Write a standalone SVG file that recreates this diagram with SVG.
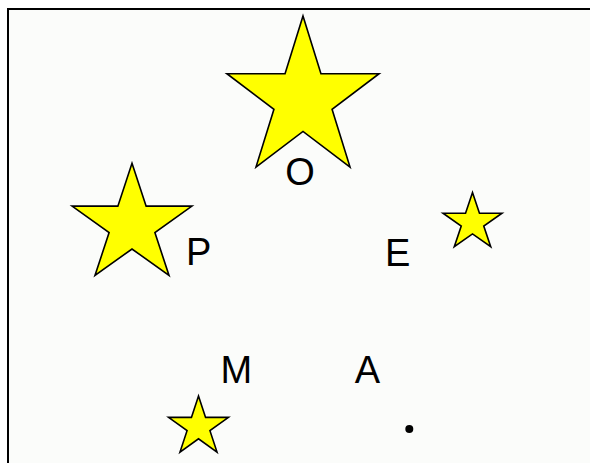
<svg xmlns="http://www.w3.org/2000/svg" width="590" height="463" viewBox="0 0 590 463">
  <style>
    .star { fill: #ffff00; stroke: #000000; stroke-width: 1.6; stroke-linejoin: miter; }
    .lbl { font-family: "Liberation Sans", Arial, sans-serif; font-size: 38px; fill: #000000; }
  </style>
  <rect x="0" y="0" width="590" height="463" fill="#ffffff"/>
  <rect id="frame" x="8" y="9" width="600" height="480" fill="#fbfcfa" stroke="#000000" stroke-width="2"/>
  <g id="star-O">
    <polygon class="star" points="303,16 320.96,73.70 379.09,73.70 332.06,109.35 350.02,167.05 303,131.40 255.98,167.05 273.94,109.35 226.91,73.70 285.04,73.70"/>
    <text class="lbl" x="300" y="185" text-anchor="middle">O</text>
  </g>
  <g id="star-P">
    <polygon class="star" points="132,163.3 146.14,206.14 191.92,206.14 154.89,232.62 169.03,275.46 132,248.98 94.97,275.46 109.11,232.62 72.08,206.14 117.86,206.14"/>
    <text class="lbl" x="186" y="265">P</text>
  </g>
  <g id="star-E">
    <polygon class="star" points="472.5,192.5 479.46,213.23 501.98,213.23 483.76,226.04 490.72,246.77 472.5,233.96 454.28,246.77 461.24,226.04 443.02,213.23 465.54,213.23"/>
    <text class="lbl" x="385" y="265.5">E</text>
  </g>
  <g id="star-M">
    <polygon class="star" points="198.5,396 205.57,417.42 228.46,417.42 209.94,430.66 217.02,452.08 198.5,438.84 179.98,452.08 187.06,430.66 168.54,417.42 191.43,417.42"/>
    <text class="lbl" x="220.5" y="382.5">M</text>
  </g>
  <g id="point-A">
    <circle cx="409.3" cy="429" r="4" fill="#000000"/>
    <text class="lbl" x="367.5" y="382.5" text-anchor="middle">A</text>
  </g>
</svg>
